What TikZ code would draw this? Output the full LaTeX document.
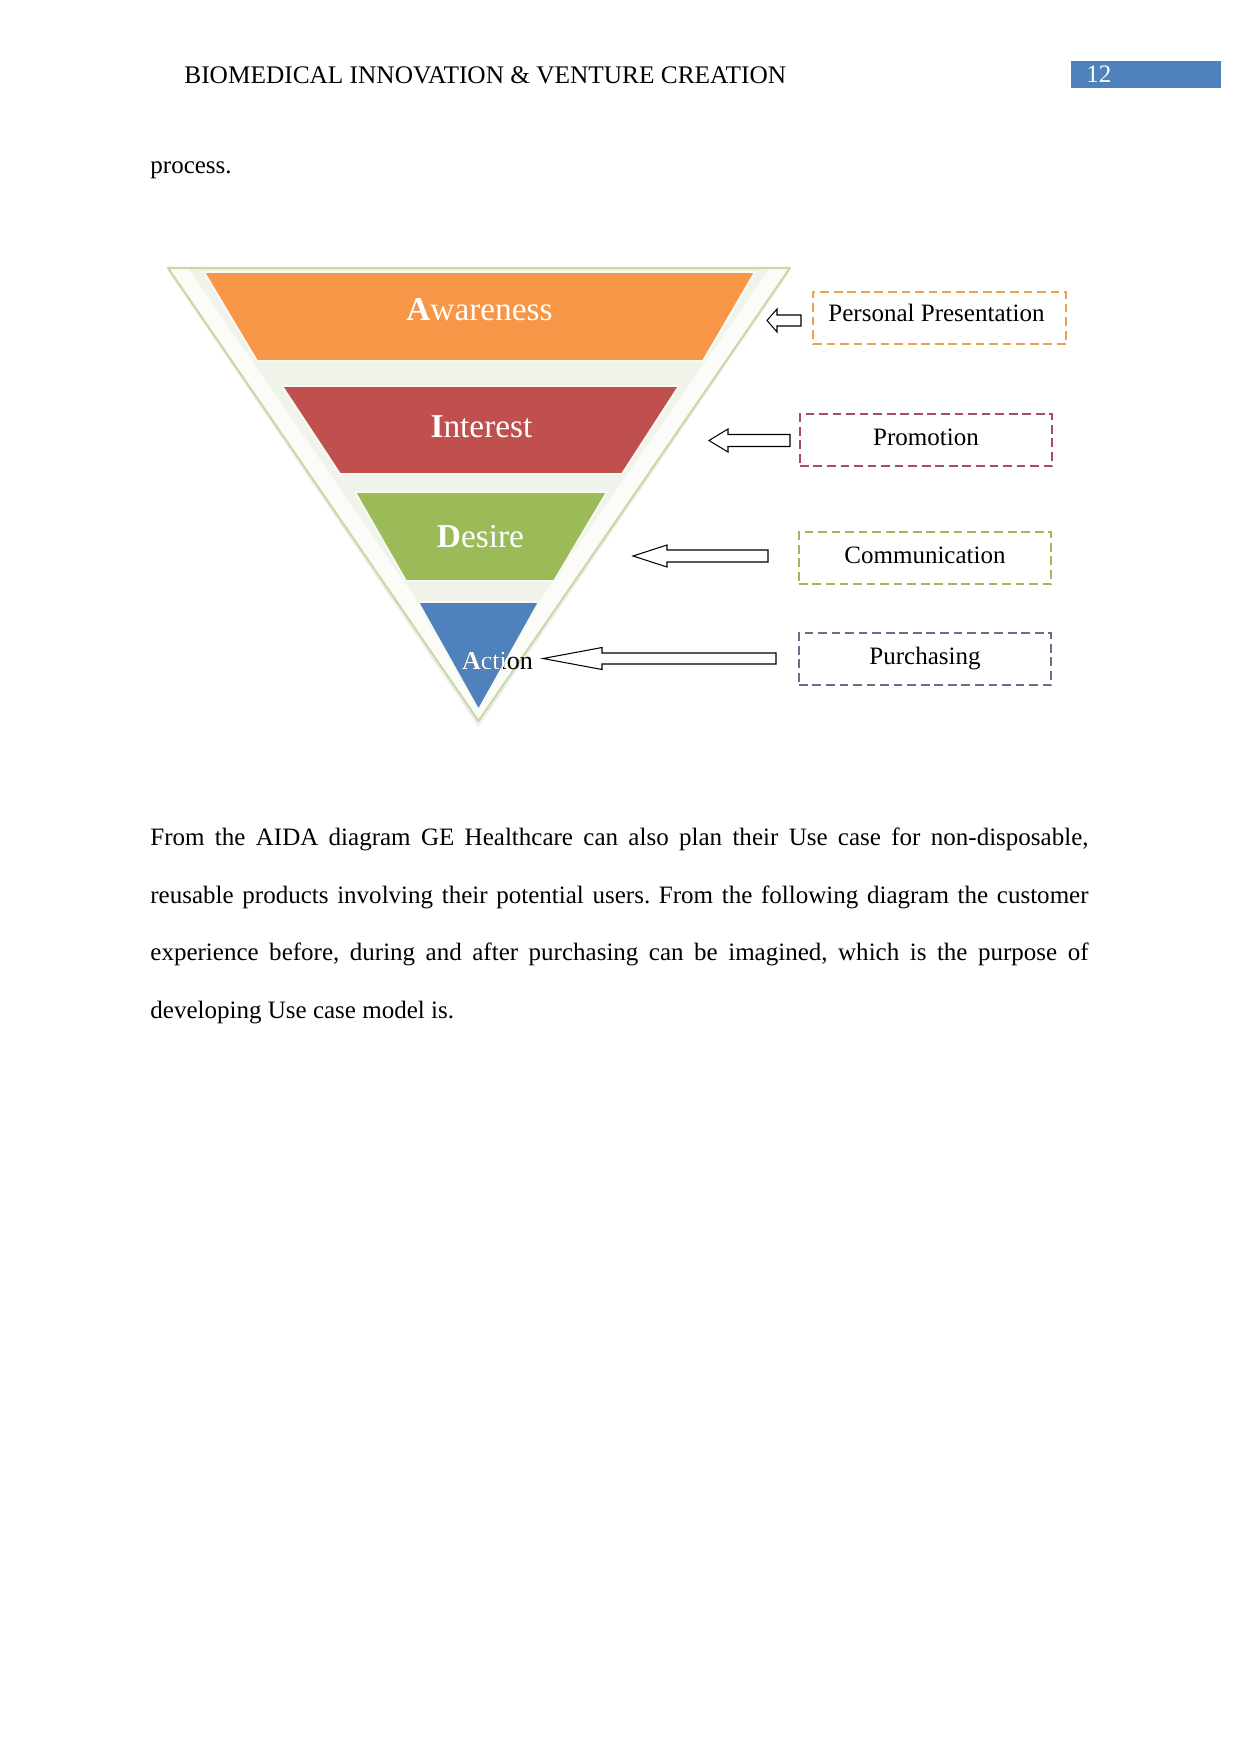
\documentclass[tikz,border=0pt]{standalone}
\usepackage{fontspec}
\setmainfont{Liberation Serif}
\usetikzlibrary{calc}
\definecolor{cOrange}{HTML}{F79646}
\definecolor{cRed}{HTML}{C0504D}
\definecolor{cGreen}{HTML}{9BBB59}
\definecolor{cBlue}{HTML}{4F81BD}
\definecolor{cOutline}{HTML}{C9DAA6}
\definecolor{cFunnel}{HTML}{F0F3EA}
\definecolor{cFunnelLight}{HTML}{FBFCF8}
\definecolor{cRim}{HTML}{F7F9F3}
\definecolor{cPP}{HTML}{E9A24F}
\definecolor{cPromo}{HTML}{A94D5E}
\definecolor{cComm}{HTML}{A6B45A}
\definecolor{cPurch}{HTML}{6D6A8C}
\newcommand\myblockarrow[6]{% tip x, head base x, end x, y, body half h, head half h
  \draw[barrow] (#1,#4) -- (#2,#4-#6) -- (#2,#4-#5) -- (#3,#4-#5) -- (#3,#4+#5)
    -- (#2,#4+#5) -- (#2,#4+#6) -- cycle;}
\begin{document}
\frenchspacing
\begin{tikzpicture}[x=0.47968pt,y=-0.47968pt,
  seg/.style={draw=cRim, line width=0.9pt, line join=round},
  lbl/.style={text=white, font=\fontsize{16}{19}\selectfont, anchor=base, inner sep=0pt},
  dbox/.style={draw=#1, dash pattern=on 4.2pt off 2.3pt, line width=1pt,
    minimum width=121pt, minimum height=24.9pt, inner sep=0pt,
    text height=8.2pt, text depth=2.6pt,
    font=\fontsize{12}{14}\selectfont},
  barrow/.style={draw=black, fill=white, line width=0.5pt, line join=miter},
  body/.style={anchor=base west, inner sep=0pt, font=\fontsize{12}{14}\selectfont}]
\useasboundingbox[fill=white] (0,0) rectangle (1241,1754);

% header
\node[body, font=\fontsize{12.15}{14}\selectfont] (hdr) at (184,83) {BIOMEDICAL INNOVATION \& VENTURE CREATION};
\fill[cBlue] (1071,61) rectangle (1221,88);
\node[body, text=white] (pg) at (1086,82) {12};
\node[body] (proc) at (150,173) {process.};

% funnel background
\coordinate (oTL) at (168,268);
\coordinate (oTR) at (790,268);
\coordinate (oB) at (478.5,721);
\fill[gray!25, opacity=0.5] ($(oTL)+(0,3)$) -- ($(oTR)+(0,3)$) -- ($(oB)+(0,6)$) -- cycle;
\fill[cFunnel] (oTL) -- (oTR) -- (oB) -- cycle;
\fill[cFunnelLight] (oTL) -- (188,268) -- (487,702) -- (oB) -- cycle;
\fill[cFunnelLight] (oTR) -- (770,268) -- (470,702) -- (oB) -- cycle;
\draw[draw=cOutline, line width=1pt, line join=round] (oTL) -- (oTR) -- (oB) -- cycle;

% segments
\path[seg, fill=cOrange] (204,272) -- (755,272) -- (703,361) -- (257,361) -- cycle;
\path[seg, fill=cRed] (282,386) -- (679,386) -- (622,474) -- (340,474) -- cycle;
\path[seg, fill=cGreen] (355,492) -- (607,492) -- (554,581) -- (406,581) -- cycle;
\path[seg, fill=cBlue] (418,602) -- (539,602) -- (478.5,710) -- cycle;

\node[lbl] (aw) at (479.5,320) {\textbf{A}wareness};
\node[lbl] (in) at (481.5,437) {\textbf{I}nterest};
\node[lbl] (de) at (480.5,547) {\textbf{D}esire};

% Action label: black outside, white inside the triangle
\node[lbl, text=black, font=\fontsize{12.5}{15}\selectfont] (ac) at (497.5,669) {\textbf{A}ction};
\begin{scope}
  \clip (418,602) -- (539,602) -- (478.5,710) -- cycle;
  \node[lbl, font=\fontsize{12.5}{15}\selectfont] (acw) at (497.5,669) {\textbf{A}ction};
\end{scope}

% dashed boxes
\node[dbox=cPP, minimum width=121.4pt] (pp) at (939.5,318) {};
\node[anchor=base, inner sep=0pt, font=\fontsize{12}{14}\selectfont] (ppt) at (936.5,321) {Personal Presentation};
\node[dbox=cPromo] (pr) at (926,440) {Promotion};
\node[dbox=cComm] (co) at (925,558) {Communication};
\node[dbox=cPurch] (pu) at (925,659) {Purchasing};

% block arrows
\myblockarrow{767}{777}{801}{320.5}{5.5}{11.5}
\myblockarrow{709}{728}{790}{440.5}{6}{11.5}
\myblockarrow{633}{667}{768}{556}{6}{11}
\myblockarrow{543}{602}{776}{658.5}{5.5}{11}

% paragraph
\node[body] (l1) at (150,845.5) {\makebox[450pt][s]{From the AIDA diagram GE Healthcare can also plan their Use case for non-disposable,}};
\node[body] (l2) at (150,903) {\makebox[450pt][s]{reusable products involving their potential users. From the following diagram the customer}};
\node[body] (l3) at (150,960.5) {\makebox[450pt][s]{experience before, during and after purchasing can be imagined, which is the purpose of}};
\node[body] (l4) at (150,1018) {developing Use case model is.};
\end{tikzpicture}
\end{document}
